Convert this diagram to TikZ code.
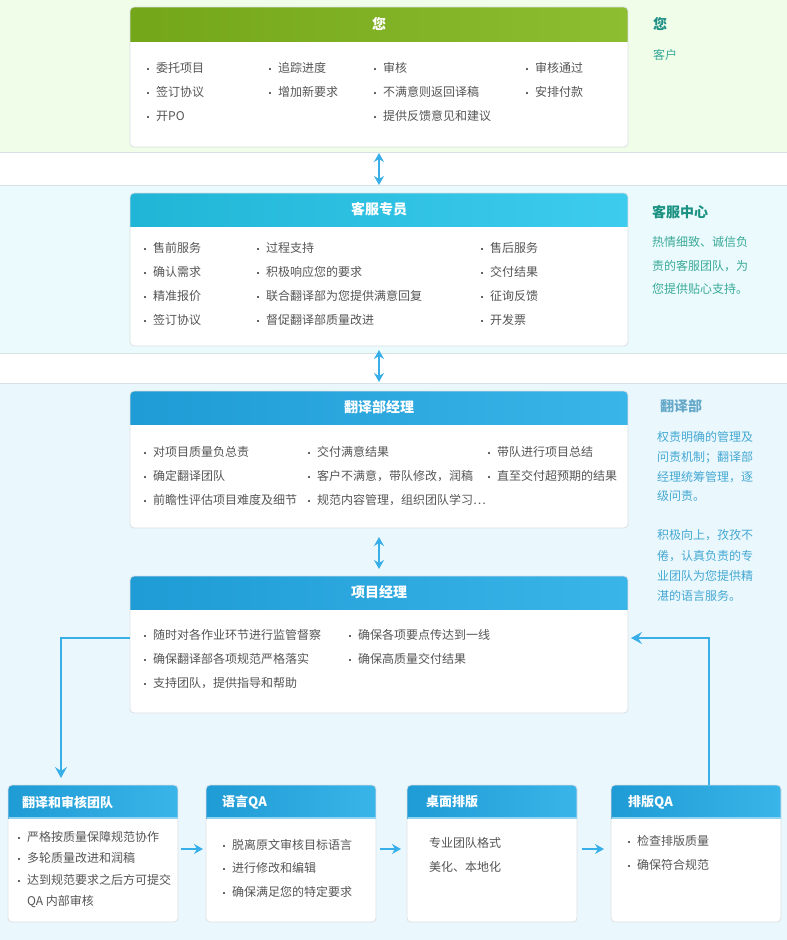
\documentclass[tikz,border=0pt]{standalone}
\usepackage{fontspec}
\setmainfont{Noto Sans CJK SC}
\usetikzlibrary{arrows.meta}
\definecolor{bandA}{HTML}{F0FDE9}
\definecolor{bandB}{HTML}{EBFAFD}
\definecolor{bandC}{HTML}{EAF8FE}
\definecolor{bandline}{HTML}{D6E2E6}
\definecolor{boxline}{HTML}{DCDFE2}
\definecolor{txt}{HTML}{555555}
\definecolor{bulc}{HTML}{666666}
\definecolor{arrowblue}{HTML}{38AFE9}
\definecolor{gA}{HTML}{74A619}
\definecolor{gB}{HTML}{8DBD30}
\definecolor{cA}{HTML}{20B5D6}
\definecolor{cB}{HTML}{3DCCEE}
\definecolor{bA}{HTML}{1F9BD5}
\definecolor{bB}{HTML}{3AB5E9}
\definecolor{hline}{HTML}{8FD4F3}
\definecolor{tealA}{HTML}{1F8F86}
\definecolor{tealB}{HTML}{38A898}
\definecolor{tealC}{HTML}{1B9282}
\definecolor{tealD}{HTML}{3AAA98}
\definecolor{blueT}{HTML}{65A8C8}
\definecolor{blueD}{HTML}{45A8D2}
\newcommand\mybul{\makebox[9pt][l]{\textcolor{bulc}{\rule[3pt]{1.8pt}{1.8pt}}}}
\newcommand\mkpanel[8]{%
  \node[box, minimum width=#4, minimum height=#5] (#1) at (#2,#3) {};
  \begin{scope}
    \clip[rounded corners=4pt] (#1.north west) rectangle (#1.south east);
    \shade[left color=#7, right color=#8] (#1.north west) rectangle ([yshift=-#6]#1.north east);
  \end{scope}
  \draw[draw=boxline, line width=0.8pt, rounded corners=4pt] (#1.north west) rectangle (#1.south east);
}
\begin{document}
\begin{tikzpicture}[x=1pt, y=-1pt,
  box/.style={fill=white, inner sep=0pt, outer sep=0pt, rounded corners=4pt},
  ttl/.style={text=white, font=\fontsize{14pt}{16pt}\selectfont\bfseries, inner sep=0pt},
  sttl/.style={anchor=west, text=white, font=\fontsize{13pt}{15pt}\selectfont\bfseries, inner sep=0pt},
  itm/.style={anchor=west, inner sep=0pt, text=txt, font=\fontsize{12pt}{14pt}\selectfont, text height=10.5pt, text depth=1.5pt},
  rttl/.style={anchor=west, inner sep=0pt, font=\fontsize{14pt}{16pt}\selectfont\bfseries, text height=11pt, text depth=2pt},
  rtxt/.style={anchor=west, inner sep=0pt, font=\fontsize{12pt}{14pt}\selectfont, text height=10.5pt, text depth=1.5pt},
  flow/.style={draw=arrowblue, line width=2pt, -{Stealth[length=11pt,width=12pt,inset=4pt]}},
  sflow/.style={draw=arrowblue, line width=2pt, -{Stealth[length=9pt,width=10pt,inset=3pt]}},
  dflow/.style={draw=arrowblue, line width=2pt, {Stealth[length=9pt,width=10pt,inset=3pt]}-{Stealth[length=9pt,width=10pt,inset=3pt]}}
]
\useasboundingbox (0,0) rectangle (787,940);
\fill[white] (0,0) rectangle (787,940);
% bands
\fill[bandA] (0,0) rectangle (787,152);
\fill[bandB] (0,185) rectangle (787,353);
\fill[bandC] (0,383) rectangle (787,940);
\draw[bandline, line width=1pt] (0,152.5) -- (787,152.5);
\draw[bandline, line width=1pt] (0,185.5) -- (787,185.5);
\draw[bandline, line width=1pt] (0,353.5) -- (787,353.5);
\draw[bandline, line width=1pt] (0,383.5) -- (787,383.5);

% panels
\mkpanel{you}{379}{77}{498pt}{140pt}{34pt}{gA}{gB}
\mkpanel{cs}{379}{269.5}{498pt}{153pt}{33pt}{cA}{cB}
\mkpanel{tm}{379}{459.5}{498pt}{137pt}{33pt}{bA}{bB}
\mkpanel{pm}{379}{644.5}{498pt}{137pt}{33pt}{bA}{bB}
\mkpanel{tr}{93}{853.5}{170pt}{137pt}{33pt}{bA}{bB}
\mkpanel{lqa}{291}{853.5}{170pt}{137pt}{33pt}{bA}{bB}
\mkpanel{dtp}{492}{853.5}{170pt}{137pt}{33pt}{bA}{bB}
\mkpanel{tqa}{696}{853.5}{170pt}{137pt}{33pt}{bA}{bB}
\foreach \p in {tr,lqa,dtp,tqa}{
  \draw[hline, line width=1.2pt] ([yshift=-33pt,xshift=0.5pt]\p.north west) -- ([yshift=-33pt,xshift=-0.5pt]\p.north east);
}

% titles
\node[ttl] (youH) at ([yshift=-17pt]you.north) {您};
\node[ttl] (csH) at ([yshift=-16.5pt]cs.north) {客服专员};
\node[ttl] (tmH) at ([yshift=-16.5pt]tm.north) {翻译部经理};
\node[ttl] (pmH) at ([yshift=-16.5pt]pm.north) {项目经理};
\node[sttl] (trH) at (22,802) {翻译和审核团队};
\node[sttl] (lqaH) at (222,802) {语言QA};
\node[sttl] (dtpH) at (426,802) {桌面排版};
\node[sttl] (tqaH) at (628,802) {排版QA};

% panel 1 items
\node[itm] (y1) at (147,68) {\mybul 委托项目};
\node[itm] (y2) at (147,92) {\mybul 签订协议};
\node[itm] (y3) at (147,116) {\mybul 开PO};
\node[itm] (y4) at (269,68) {\mybul 追踪进度};
\node[itm] (y5) at (269,92) {\mybul 增加新要求};
\node[itm] (y6) at (374,68) {\mybul 审核};
\node[itm] (y7) at (374,92) {\mybul 不满意则返回译稿};
\node[itm] (y8) at (374,116) {\mybul 提供反馈意见和建议};
\node[itm] (y9) at (526,68) {\mybul 审核通过};
\node[itm] (y10) at (526,92) {\mybul 安排付款};

% panel 2 items
\node[itm] (c1) at (144,248) {\mybul 售前服务};
\node[itm] (c2) at (144,272) {\mybul 确认需求};
\node[itm] (c3) at (144,296) {\mybul 精准报价};
\node[itm] (c4) at (144,320) {\mybul 签订协议};
\node[itm] (c5) at (257,248) {\mybul 过程支持};
\node[itm] (c6) at (257,272) {\mybul 积极响应您的要求};
\node[itm] (c7) at (257,296) {\mybul 联合翻译部为您提供满意回复};
\node[itm] (c8) at (257,320) {\mybul 督促翻译部质量改进};
\node[itm] (c9) at (481,248) {\mybul 售后服务};
\node[itm] (c10) at (481,272) {\mybul 交付结果};
\node[itm] (c11) at (481,296) {\mybul 征询反馈};
\node[itm] (c12) at (481,320) {\mybul 开发票};

% panel 3 items
\node[itm] (t1) at (144,452) {\mybul 对项目质量负总责};
\node[itm] (t2) at (144,476) {\mybul 确定翻译团队};
\node[itm] (t3) at (144,500) {\mybul 前瞻性评估项目难度及细节};
\node[itm] (t4) at (308,452) {\mybul 交付满意结果};
\node[itm] (t5) at (308,476) {\mybul 客户不满意，带队修改，润稿};
\node[itm] (t6) at (308,500) {\mybul 规范内容管理，组织团队学习…};
\node[itm] (t7) at (488,452) {\mybul 带队进行项目总结};
\node[itm] (t8) at (488,476) {\mybul 直至交付超预期的结果};

% panel 4 items
\node[itm] (p1) at (144,635) {\mybul 随时对各作业环节进行监管督察};
\node[itm] (p2) at (144,659) {\mybul 确保翻译部各项规范严格落实};
\node[itm] (p3) at (144,683) {\mybul 支持团队，提供指导和帮助};
\node[itm] (p4) at (349,635) {\mybul 确保各项要点传达到一线};
\node[itm] (p5) at (349,659) {\mybul 确保高质量交付结果};

% bottom items
\node[itm] (r1) at (18,837) {\mybul 严格按质量保障规范协作};
\node[itm] (r2) at (18,858) {\mybul 多轮质量改进和润稿};
\node[itm] (r3) at (18,880) {\mybul 达到规范要求之后方可提交};
\node[itm] (r4) at (27,901) {QA 内部审核};
\node[itm] (l1) at (223,845) {\mybul 脱离原文审核目标语言};
\node[itm] (l2) at (223,868) {\mybul 进行修改和编辑};
\node[itm] (l3) at (223,892) {\mybul 确保满足您的特定要求};
\node[itm] (d1) at (429,843) {专业团队格式};
\node[itm] (d2) at (429,867) {美化、本地化};
\node[itm] (q1) at (628,841) {\mybul 检查排版质量};
\node[itm] (q2) at (628,865) {\mybul 确保符合规范};

% right column
\node[rttl, text=tealA] (s1) at (653,25) {您};
\node[rtxt, text=tealB] (s2) at (653,55) {客户};
\node[rttl, text=tealC] (s3) at (652,213) {客服中心};
\node[rtxt, text=tealD] (s4) at (652,242) {热情细致、诚信负};
\node[rtxt, text=tealD] (s5) at (652,266) {责的客服团队，为};
\node[rtxt, text=tealD] (s6) at (652,289) {您提供贴心支持。};
\node[rttl, text=blueT] (s7) at (660,407) {翻译部};
\node[rtxt, text=blueD] (s8) at (657,437) {权责明确的管理及};
\node[rtxt, text=blueD] (s9) at (657,457) {问责机制；翻译部};
\node[rtxt, text=blueD] (s10) at (657,477) {经理统筹管理，逐};
\node[rtxt, text=blueD] (s11) at (657,496) {级问责。};
\node[rtxt, text=blueD] (s12) at (657,535) {积极向上，孜孜不};
\node[rtxt, text=blueD] (s13) at (657,556) {倦，认真负责的专};
\node[rtxt, text=blueD] (s14) at (657,576) {业团队为您提供精};
\node[rtxt, text=blueD] (s15) at (657,596) {湛的语言服务。};

% connectors
\draw[dflow, shorten <=6pt, shorten >=8pt] (you.south) -- (cs.north);
\draw[dflow, shorten <=4pt, shorten >=9pt] (cs.south) -- (tm.north);
\draw[dflow, shorten <=9pt, shorten >=7pt] (tm.south) -- (pm.north);
\draw[flow, shorten >=7pt] ([yshift=6.5pt]pm.west) -| ([xshift=-32pt]tr.north);
\draw[flow, shorten >=3pt] ([xshift=13pt]tqa.north) |- ([yshift=6.5pt]pm.east);
\draw[sflow, shorten <=3pt, shorten >=3pt] ([yshift=4.5pt]tr.east) -- ([yshift=4.5pt]lqa.west);
\draw[sflow, shorten <=4pt, shorten >=6pt] ([yshift=4.5pt]lqa.east) -- ([yshift=4.5pt]dtp.west);
\draw[sflow, shorten <=5pt, shorten >=7pt] ([yshift=4.5pt]dtp.east) -- ([yshift=4.5pt]tqa.west);
\end{tikzpicture}
\end{document}
